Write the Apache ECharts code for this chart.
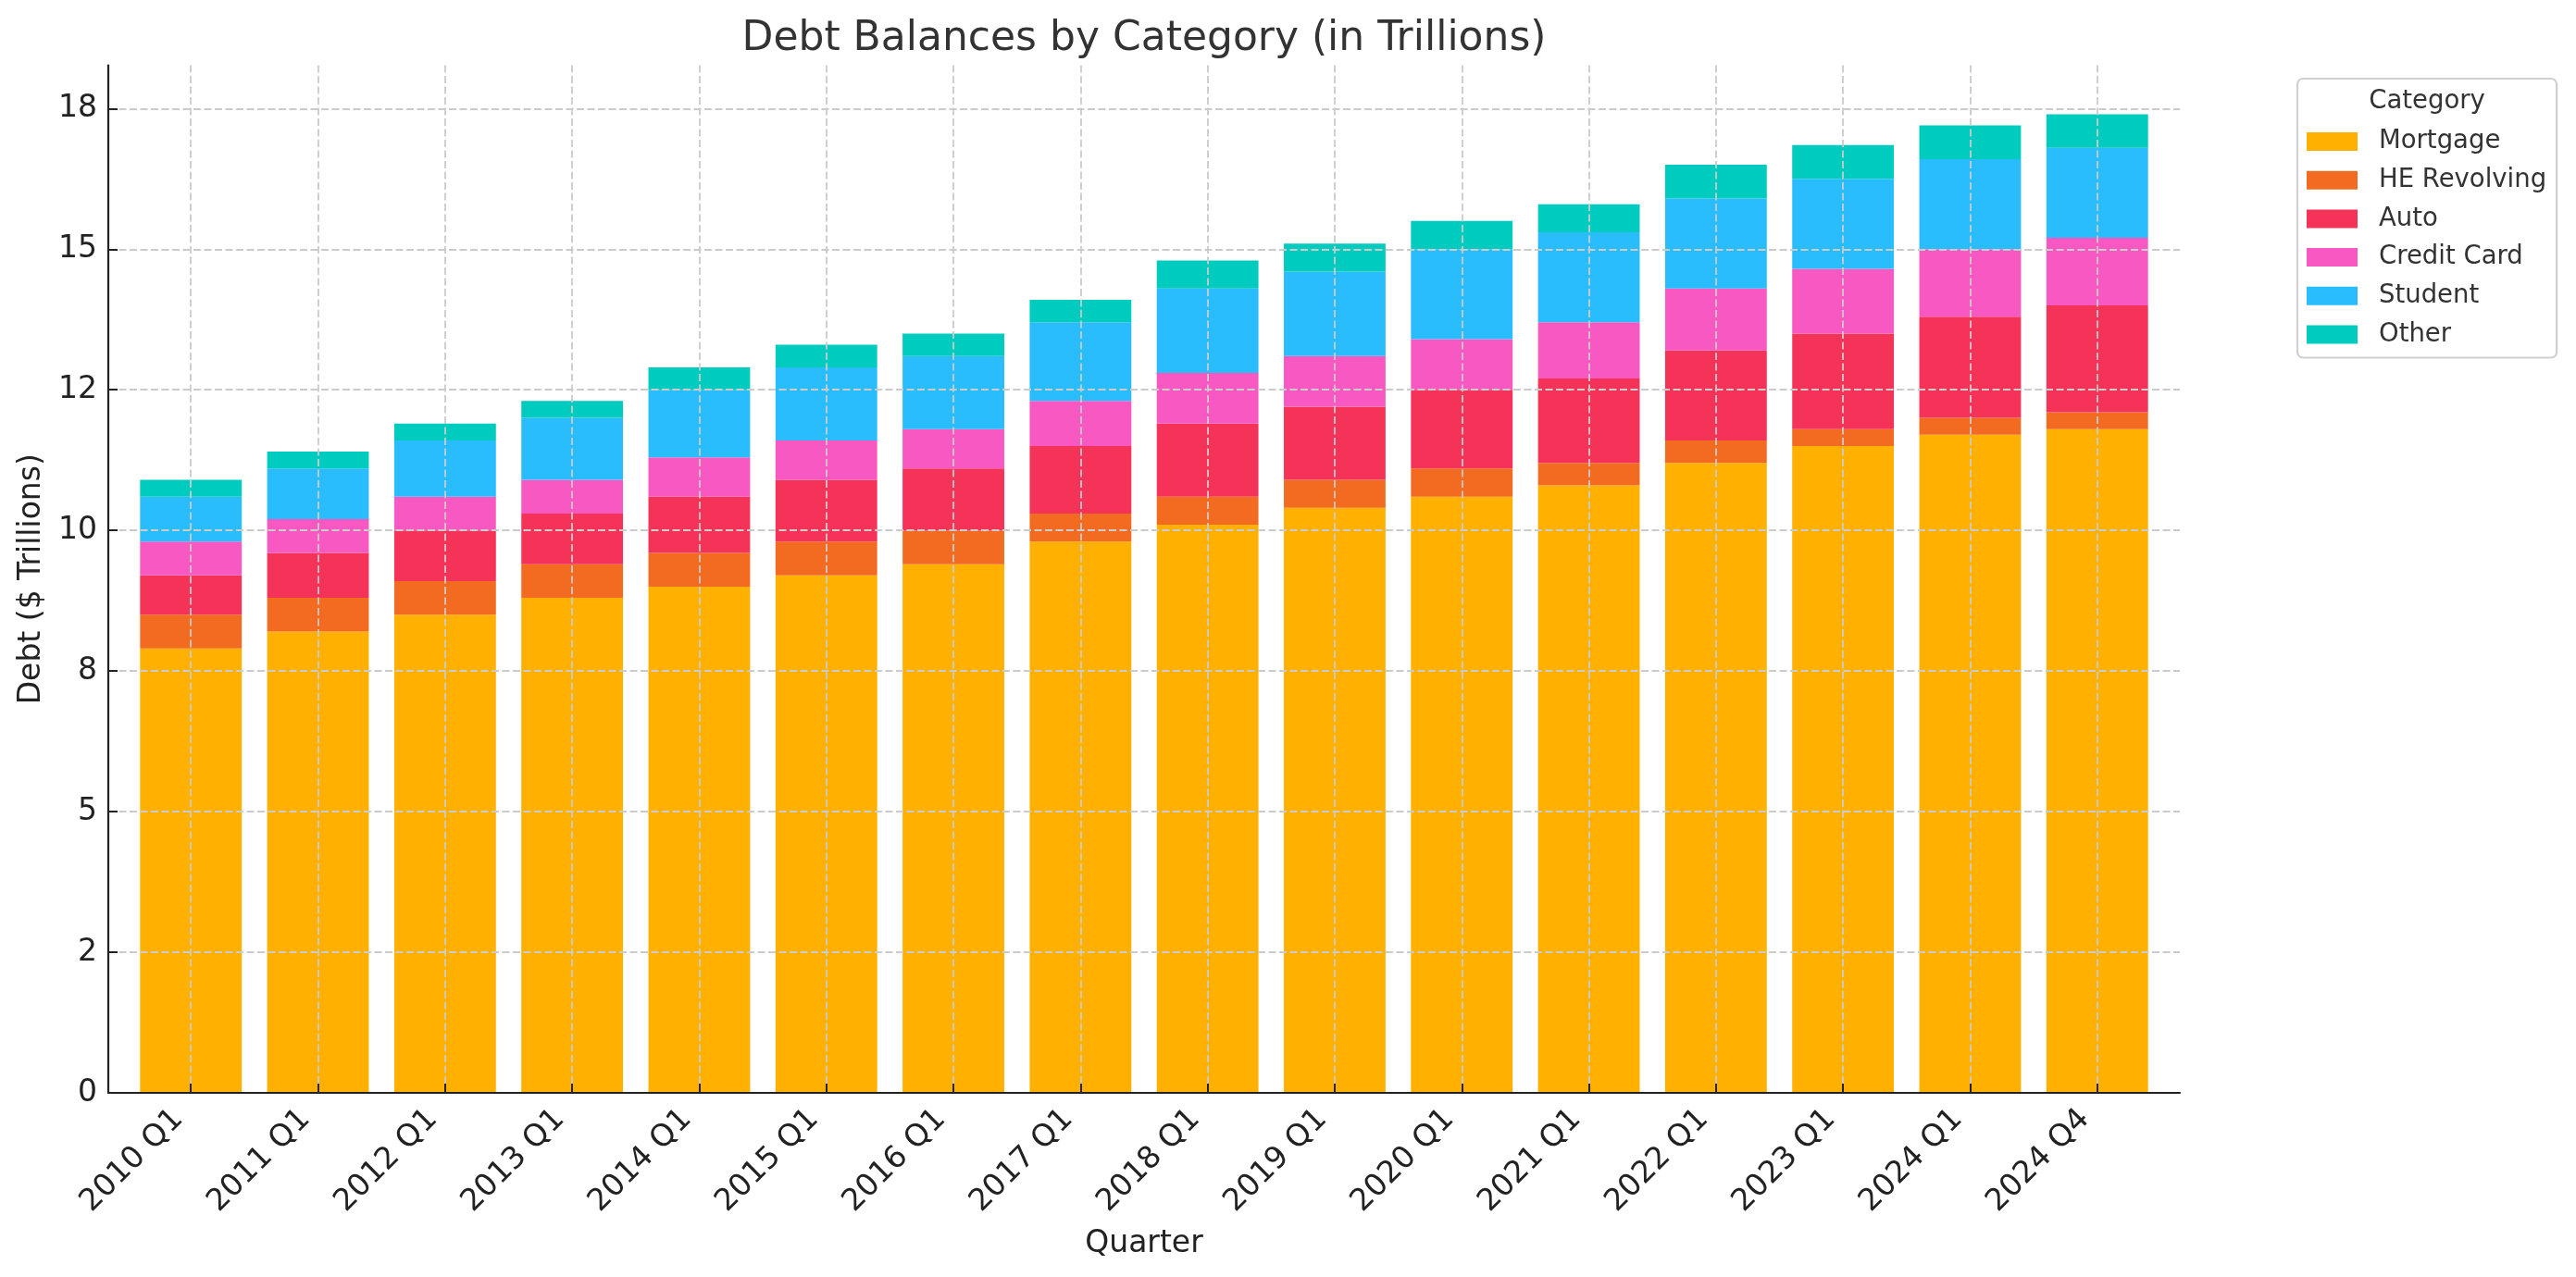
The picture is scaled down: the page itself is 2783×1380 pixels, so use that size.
<!DOCTYPE html>
<html>
<head>
<meta charset="utf-8">
<title>Debt Balances by Category</title>
<script src="https://cdn.jsdelivr.net/npm/echarts@6/dist/echarts.min.js"></script>
<style>
  html, body { margin: 0; padding: 0; background: #ffffff; }
  #main { width: 2783px; height: 1380px; }
</style>
</head>
<body>
<div id="main"></div>
<script>
// 季度
const quarters = ['2010 Q1', '2011 Q1', '2012 Q1', '2013 Q1', '2014 Q1', '2015 Q1', '2016 Q1', '2017 Q1',
  '2018 Q1', '2019 Q1', '2020 Q1', '2021 Q1', '2022 Q1', '2023 Q1', '2024 Q1', '2024 Q4'];

// 各类债务 (万亿)
const mortgage = [7.9, 8.2, 8.5, 8.8, 9.0, 9.2, 9.4, 9.8, 10.1, 10.4, 10.6, 10.8, 11.2, 11.5, 11.7, 11.8];
const heRevolving = [0.6, 0.6, 0.6, 0.6, 0.6, 0.6, 0.6, 0.5, 0.5, 0.5, 0.5, 0.4, 0.4, 0.3, 0.3, 0.3];
const auto = [0.7, 0.8, 0.9, 0.9, 1.0, 1.1, 1.1, 1.2, 1.3, 1.3, 1.4, 1.5, 1.6, 1.7, 1.8, 1.9];
const creditCard = [0.6, 0.6, 0.6, 0.6, 0.7, 0.7, 0.7, 0.8, 0.9, 0.9, 0.9, 1.0, 1.1, 1.15, 1.2, 1.2];
const student = [0.8, 0.9, 1.0, 1.1, 1.2, 1.3, 1.3, 1.4, 1.5, 1.5, 1.6, 1.6, 1.6, 1.6, 1.6, 1.6];
const other = [0.3, 0.3, 0.3, 0.3, 0.4, 0.4, 0.4, 0.4, 0.5, 0.5, 0.5, 0.5, 0.6, 0.6, 0.6, 0.6];

// y轴刻度 (标签是四舍五入后的整数)
const yTickValues = [0, 2.5, 5, 7.5, 10, 12.5, 15, 17.5];
const yTickLabels = ['0', '2', '5', '8', '10', '12', '15', '18'];

const seriesNames = ['Mortgage', 'HE Revolving', 'Auto', 'Credit Card', 'Student', 'Other'];
const seriesValues = [mortgage, heRevolving, auto, creditCard, student, other];
const colors = ['#FFB000', '#F26B21', '#F53257', '#F858C1', '#29BDFD', '#00CBBF'];

const xTickValues = quarters.map((q, i) => i);

var chart = echarts.init(document.getElementById('main'), null, { renderer: 'canvas' });

var gridLine = {
  show: true,
  lineStyle: { color: '#cbcbcb', width: 1.8, type: [8, 3.5] }
};

var option = {
  backgroundColor: '#ffffff',
  animation: false,
  color: colors,
  textStyle: { fontFamily: 'DejaVu Sans' },
  title: [{
    text: 'Debt Balances by Category (in Trillions)',
    left: 1236,
    top: 21,
    padding: 0,
    textAlign: 'center',
    textStyle: { fontSize: 44, fontWeight: 'normal', color: '#333333', fontFamily: 'DejaVu Sans' }
  }, {
    // 图例标题
    text: 'Category',
    left: 2622,
    top: 96,
    padding: 0,
    textAlign: 'center',
    textStyle: { fontSize: 27.5, fontWeight: 'normal', color: '#333333', fontFamily: 'DejaVu Sans' }
  }],
  legend: {
    orient: 'vertical',
    left: 2482,
    top: 85,
    padding: [54, 11, 11, 10],
    itemWidth: 55,
    itemHeight: 20,
    itemGap: 13.7,
    icon: 'rect',
    borderColor: '#d0d0d0',
    borderWidth: 2.2,
    borderRadius: 6,
    textStyle: { fontSize: 27.5, color: '#333333', lineHeight: 28, padding: [0, 0, 0, 18], fontFamily: 'DejaVu Sans' },
    data: seriesNames
  },
  grid: {
    left: 117,
    right: 428,
    top: 70.5,
    bottom: 199,
    containLabel: false
  },
  xAxis: {
    type: 'value',
    min: -0.65,
    max: 15.65,
    z: 5,
    name: 'Quarter',
    nameLocation: 'middle',
    nameGap: 147,
    nameTextStyle: { fontSize: 33, color: '#222222' },
    axisLine: { show: true, onZero: false, lineStyle: { color: '#222222', width: 2.2 } },
    axisTick: { show: true, inside: true, length: 10, customValues: xTickValues, lineStyle: { color: '#222222', width: 2 } },
    axisLabel: {
      customValues: xTickValues,
      rotate: 45,
      margin: 10,
      padding: [0, 19, 0, 0],
      fontSize: 33,
      color: '#222222',
      formatter: function (v) { return quarters[Math.round(v)]; }
    },
    splitLine: gridLine
  },
  yAxis: {
    type: 'value',
    min: 0,
    max: 18.27,
    z: 5,
    name: 'Debt ($ Trillions)',
    nameLocation: 'middle',
    nameGap: 66,
    nameTextStyle: { fontSize: 33, color: '#222222' },
    axisLine: { show: true, onZero: false, lineStyle: { color: '#222222', width: 2.2 } },
    axisTick: { show: true, inside: true, length: 10, customValues: yTickValues, lineStyle: { color: '#222222', width: 2 } },
    axisLabel: {
      customValues: yTickValues,
      margin: 12,
      fontSize: 33,
      color: '#222222',
      formatter: function (v) {
        let idx = yTickValues.indexOf(v);
        return idx >= 0 ? yTickLabels[idx] : '';
      }
    },
    splitLine: gridLine
  },
  series: seriesNames.map(function (name, k) {
    return {
      name: name,
      type: 'bar',
      stack: 'total',
      barWidth: '80%',
      itemStyle: { color: colors[k] },
      // 值放在第一列, 这样堆叠按 y 计算
      encode: { x: 1, y: 0 },
      data: seriesValues[k].map((v, i) => [v, i])
    };
  })
};

chart.setOption(option);
</script>
</body>
</html>
